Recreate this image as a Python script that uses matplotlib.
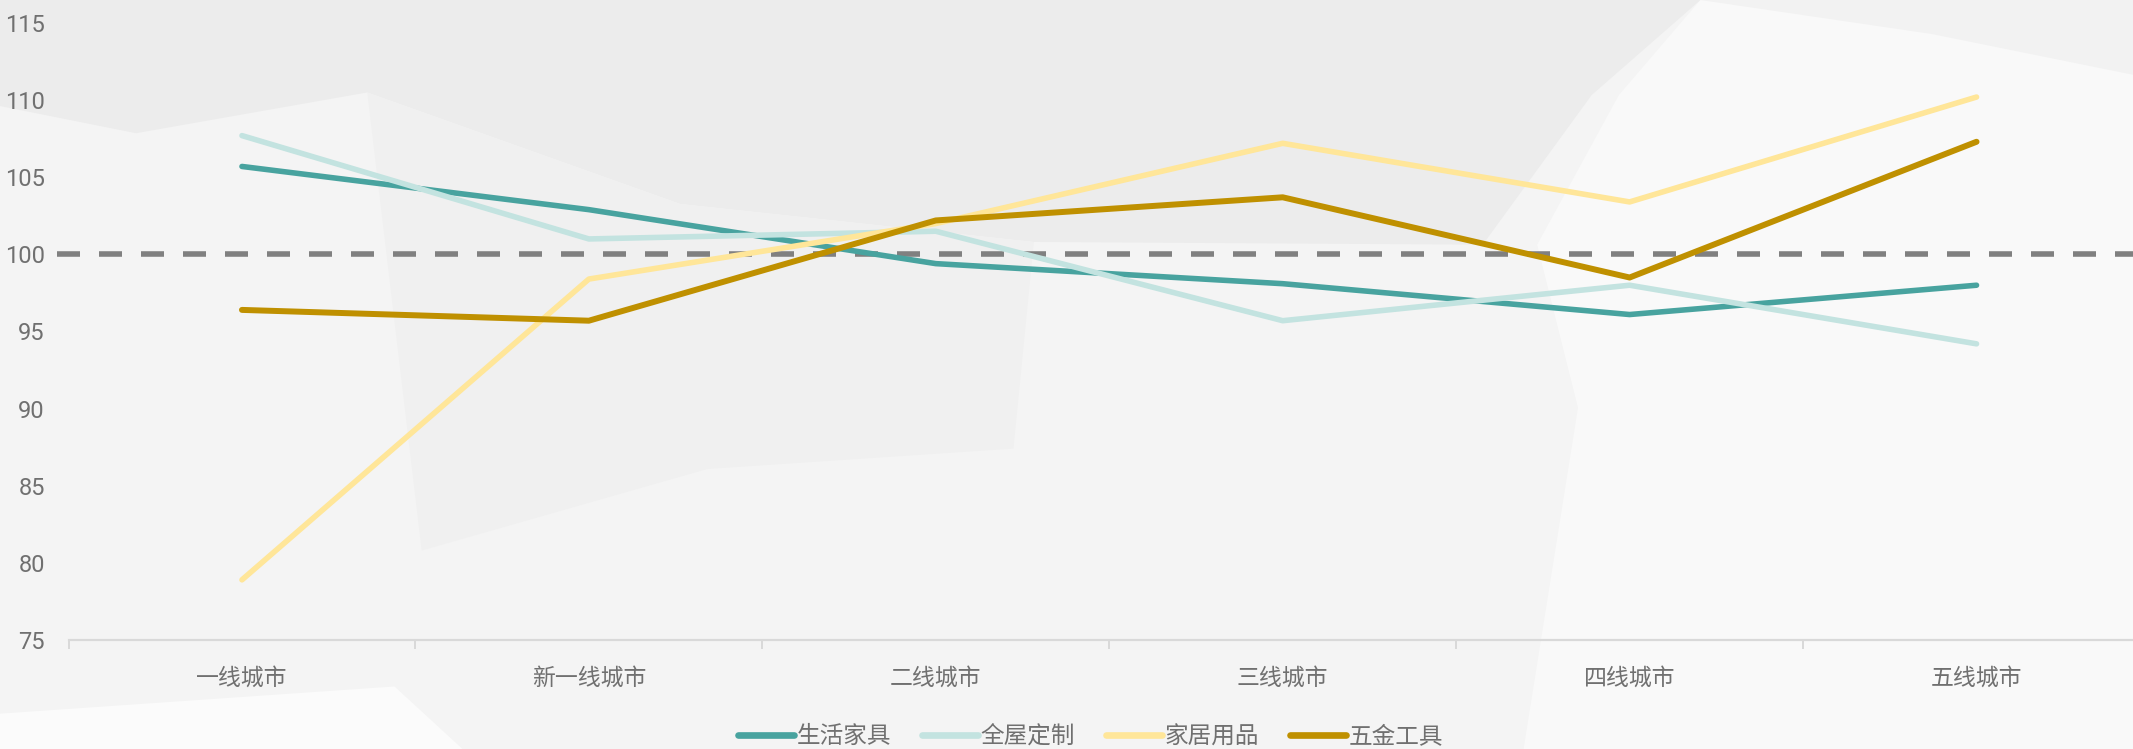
import matplotlib
matplotlib.use("Agg")
import matplotlib.pyplot as plt
from matplotlib.patches import Polygon
from matplotlib.lines import Line2D
import numpy as np

# ---- data ----
categories = ["一线城市", "新一线城市", "二线城市", "三线城市", "四线城市", "五线城市"]
series_names = ["生活家具", "全屋定制", "家居用品", "五金工具"]
life_furniture = [105.7, 102.9, 99.4, 98.1, 96.1, 98.0]
whole_house = [107.7, 101.0, 101.5, 95.7, 98.0, 94.2]
home_goods = [78.9, 98.4, 102.0, 107.2, 103.4, 110.2]
hardware = [96.4, 95.7, 102.2, 103.7, 98.5, 107.3]
reference_value = 100
y_ticks = [75, 80, 85, 90, 95, 100, 105, 110, 115]

colors = ["#48A39F", "#C3E3E0", "#FFE699", "#BF9000"]

W, H = 2133, 749
DPI = 100
fig = plt.figure(figsize=(W / DPI, H / DPI), dpi=DPI)
fig.patch.set_facecolor("#F4F4F4")

# ---- soft low-poly background (decoration) ----
def bg_poly(pts, color):
    xy = [(x / 1568.0, 1 - y / 551.0) for x, y in pts]
    fig.patches.append(Polygon(xy, closed=True, transform=fig.transFigure,
                               facecolor=color, edgecolor="none", zorder=-10))

bg_poly([(0, 0), (1250, 0), (1170, 70), (1090, 180), (760, 178), (500, 150),
         (270, 68), (100, 98), (0, 78)], "#ECECEC")
bg_poly([(270, 68), (500, 150), (760, 178), (745, 330), (520, 345), (310, 405)], "#F0F0F0")
bg_poly([(1250, 0), (1568, 0), (1568, 551), (1120, 551), (1160, 300),
         (1130, 180), (1190, 70)], "#F9F9F9")
bg_poly([(1250, 0), (1568, 0), (1568, 55), (1420, 25)], "#F2F2F2")
bg_poly([(0, 525), (290, 505), (340, 551), (0, 551)], "#FBFBFB")

# ---- axes ----
ax = fig.add_axes([68.5 / W, 109 / H, 2081.5 / W, 617 / H])
ax.set_facecolor("none")

x = np.arange(len(categories))
all_series = [life_furniture, whole_house, home_goods, hardware]
lws = [4.0, 4.0, 4.0, 4.3]
for vals, c, name, lw in zip(all_series, colors, series_names, lws):
    ax.plot(x, vals, color=c, lw=lw, solid_capstyle="round",
            solid_joinstyle="round", label=name, zorder=3)

# reference dashed line
ax.axhline(reference_value, xmin=-0.0055, xmax=1.0, color="#808080", lw=4.0,
           dashes=(4.14, 3.42), clip_on=False, zorder=2)

ax.set_xlim(-0.5, len(categories) - 0.5)
ax.set_ylim(75, 115)
ax.set_yticks(y_ticks)
ax.set_yticklabels([str(t) for t in y_ticks])
ax.set_xticks(x)
ax.set_xticklabels(categories)
ax.set_xticks(np.arange(-0.5, len(categories) - 0.4, 1.0), minor=True)

for s in ["top", "right", "left"]:
    ax.spines[s].set_visible(False)
ax.spines["bottom"].set_color("#D9D9D9")
ax.spines["bottom"].set_linewidth(1.6)

ax.tick_params(axis="y", length=0, pad=17, labelsize=17, labelcolor="#707070")
ax.tick_params(axis="x", which="major", length=0, pad=19, labelsize=16.5,
               labelcolor="#707070")
ax.tick_params(axis="x", which="minor", length=6.5, width=1.4, color="#D9D9D9")

for lab in ax.get_yticklabels():
    lab.set_family(["Roboto", "DejaVu Sans"])
    lab.set_fontweight("normal")
for lab in ax.get_xticklabels():
    lab.set_family(["Noto Sans CJK SC", "DejaVu Sans"])
    lab.set_fontweight("light")

# ---- legend ----
handles = [Line2D([0], [0], color=c, lw=4.8, solid_capstyle="round") for c in colors]
leg = fig.legend(handles, series_names, loc="center", ncol=4,
                 bbox_to_anchor=(1090.7 / W, 12.3 / H), bbox_transform=fig.transFigure,
                 frameon=False, handlelength=2.37, handletextpad=0.12,
                 columnspacing=1.3, borderpad=0, borderaxespad=0,
                 prop={"family": ["Noto Sans CJK SC", "DejaVu Sans"], "size": 17,
                       "weight": "light"})
for t in leg.get_texts():
    t.set_color("#707070")

fig.savefig("out.png", dpi=DPI, facecolor=fig.get_facecolor())
